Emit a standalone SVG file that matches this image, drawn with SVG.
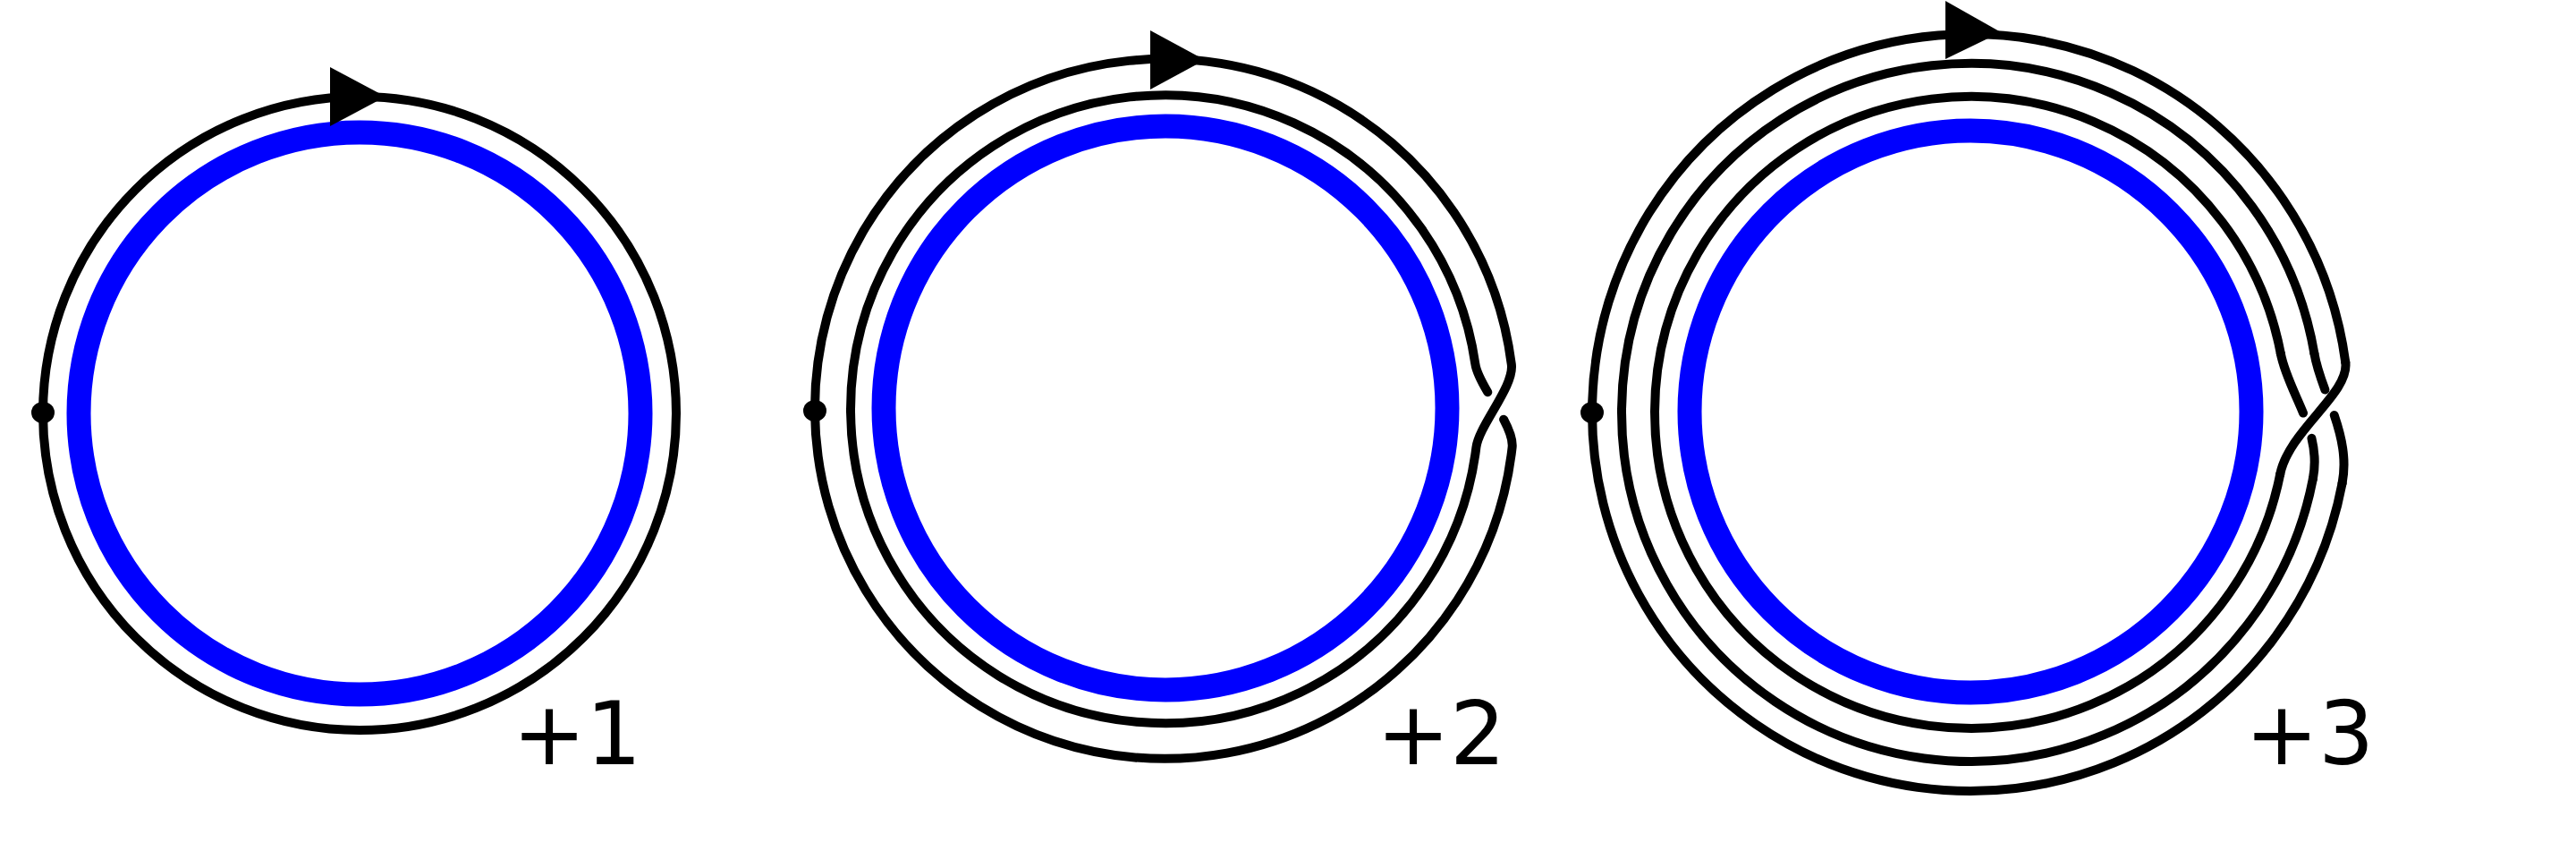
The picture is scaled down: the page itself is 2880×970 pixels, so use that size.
<svg xmlns="http://www.w3.org/2000/svg" width="2880" height="970" viewBox="0 0 2880 970">
<style>
.k{fill:none;stroke:#000;stroke-width:10;stroke-linecap:round;stroke-linejoin:round}
.b{fill:none;stroke:#0000ff;stroke-width:27}
.a{fill:#000;stroke:none}
.t{font-family:"DejaVu Sans",sans-serif;font-size:98px;fill:#000}
</style>
<rect width="2880" height="970" fill="#fff"/>
<g id="fig1">
<circle class="b" cx="402" cy="462" r="314"/>
<circle class="k" cx="402" cy="462" r="354"/>
<ellipse class="a" cx="48" cy="461" rx="13" ry="12"/>
<polygon class="a" points="369,75 369,141 431,108"/>
<text class="t" x="573" y="854">+1</text>
</g>
<g id="fig2">
<circle class="b" cx="1303" cy="456" r="315"/>
<path class="k" d="M1681.1 468.7 C1687.27 480.35 1691.58 491.32 1690.6 500 A391 391 0 1 1 1689.8 407 C1693.2 431.8 1653.5 475.2 1650.4 500 A351 351 0 1 1 1649.4 407 C1650.66 415.65 1656.43 426.6 1663.28 438.24"/>
<ellipse class="a" cx="911" cy="459" rx="13" ry="12"/>
<polygon class="a" points="1286,34 1286,100 1347,67"/>
<text class="t" x="1539" y="854">+2</text>
</g>
<g id="fig3">
<circle class="b" cx="2203" cy="460" r="314"/>
<path class="k" d="M2549.2 530 A353 353 0 1 1 2549.8 395"/>
<path class="k" d="M2585.9 535 A390 390 0 1 1 2587.4 395"/>
<path class="k" d="M2618.6 540 A423 423 0 1 1 2622.3 405"/>
<path class="k" pathLength="100" stroke-dasharray="48.6 20.4 100" d="M2549.8 395 C2558.2 439.2 2596.4 481 2585.9 535"/>
<path class="k" pathLength="100" stroke-dasharray="28.3 20.1 100" d="M2587.4 395 C2595 439.4 2628.9 486 2618.6 540"/>
<path class="k" d="M2622.3 405 C2626.9 439.7 2558.95 480.95 2549.2 530"/>
<ellipse class="a" cx="1780" cy="461" rx="13" ry="12"/>
<polygon class="a" points="2175,1 2175,66 2237,36"/>
<text class="t" x="2510" y="854">+3</text>
</g>
</svg>
